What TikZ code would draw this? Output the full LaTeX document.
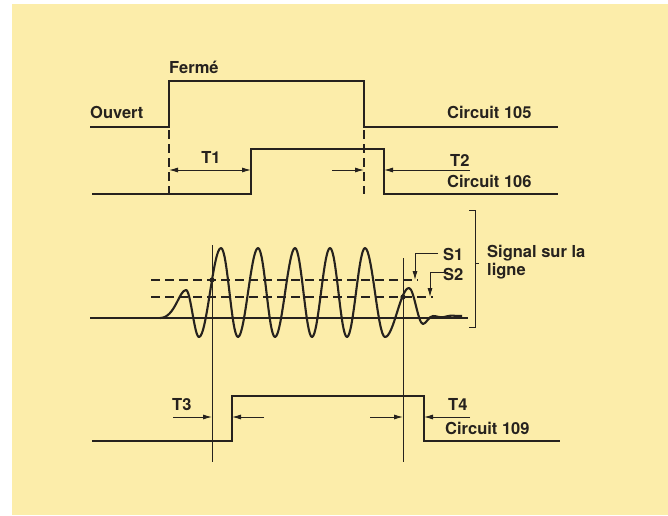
\documentclass[tikz,border=0pt]{standalone}
\usepackage{fontspec}
\setmainfont{TeX Gyre Heros}
\usetikzlibrary{arrows.meta}
\definecolor{paper}{RGB}{252,237,170}
\definecolor{ink}{RGB}{38,34,30}
\begin{document}
\begin{tikzpicture}[x=1pt,y=-1pt,
  sig/.style={draw=ink,line width=2.2pt,line join=miter},
  wave/.style={draw=ink,line width=2.1pt,line join=round},
  thinl/.style={draw=ink,line width=0.9pt},
  dsh/.style={draw=ink,line width=1.2pt,dash pattern=on 9pt off 5pt},
  lbl/.style={font=\bfseries\fontsize{16.5}{18}\selectfont,anchor=base west,inner sep=0pt,text=ink},
  dimr/.style={draw=ink,line width=0.9pt,-{Latex[length=9pt,width=5pt]}},
  dimb/.style={draw=ink,line width=0.9pt,{Latex[length=9pt,width=5pt]}-{Latex[length=9pt,width=5pt]}},
]
\useasboundingbox (0,0) rectangle (668,515);
\fill[white] (0,0) rectangle (668,515);
\fill[paper] (12,4) rectangle (668,515);

% Circuit 105 and 106
\draw[sig] (90,127) -- (169,127) -- (169,81) -- (364,81) -- (364,127) -- (558,127);
\draw[sig] (92,194) -- (251,194) -- (251,149) -- (384,149) -- (384,194) -- (558,194);
\draw[dsh] (169,130) -- (169,194);
\draw[dsh] (364,130) -- (364,194);

\coordinate (t1a) at (169,170); \coordinate (t1b) at (251,170);
\draw[dimb] (t1a) -- (t1b);
\coordinate (t2a) at (332,170); \coordinate (t2b) at (364,170);
\coordinate (t2c) at (470,170); \coordinate (t2d) at (384,170);
\draw[dimr] (t2a) -- (t2b);
\draw[dimr] (t2c) -- (t2d);

\node[lbl] (ferme) at (169,73) {Fermé};
\node[lbl] (ouvert) at (90,118) {Ouvert};
\node[lbl] (c105) at (447,118) {Circuit 105};
\node[lbl,anchor=base] (T1) at (211,163) {T1};
\node[lbl] (T2) at (450,166) {T2};
\node[lbl] (c106) at (447,187) {Circuit 106};

% Signal on the line
\draw[draw=ink,line width=1.6pt] (90,318) -- (468,318);
\draw[dsh] (151,280) -- (418,280);
\draw[dsh] (151,297) -- (433,297);
\draw[thinl] (212,245) -- (212,462);
\draw[thinl] (403,258) -- (403,462);

\draw[wave] (160,318) .. controls (175,318) and (179,290) .. (186,290)
  .. controls (190.7,290) and (194.3,337) .. (199,337)
  .. controls (206.9,337) and (213.1,248) .. (221,248)
  .. controls (227.5,248) and (231.5,337) .. (238,337)
  .. controls (245,337) and (251,248) .. (258,248)
  .. controls (264.5,248) and (268.5,337) .. (275,337)
  .. controls (282,337) and (288.2,248) .. (295,248)
  .. controls (301.3,248) and (305.7,337) .. (312,337)
  .. controls (318.5,337) and (323.5,248) .. (330,248)
  .. controls (336.5,248) and (340.5,337) .. (347,337)
  .. controls (353.5,337) and (358.5,248) .. (365,248)
  .. controls (372.2,248) and (377.8,337) .. (385,337)
  .. controls (393.6,337) and (400.4,288) .. (409,288)
  .. controls (414,288) and (418,324) .. (423,324)
  .. controls (426,324) and (429,316) .. (433,316)
  .. controls (437,316) and (440,318) .. (444,317)
  .. controls (448,316) and (452,315) .. (456,316)
  -- (462,316);

\fill[ink] (212,280) circle (2.6pt);
\fill[ink] (403,297) circle (2.6pt);

\coordinate (s1a) at (438,253); \coordinate (s1b) at (415,253); \coordinate (s1c) at (415,280);
\draw[dimr] (s1a) -- (s1b) -- (s1c);
\coordinate (s2a) at (448,272); \coordinate (s2b) at (430,272); \coordinate (s2c) at (430,297);
\draw[dimr] (s2a) -- (s2b) -- (s2c);
\node[lbl] (S1) at (443,260) {S1};
\node[lbl] (S2) at (443,280) {S2};

\draw[thinl] (469,210) -- (475,210) -- (475,327) -- (469,327);
\draw[thinl] (475,263) -- (479,263);
\node[lbl] (sig1) at (487,257) {Signal sur la};
\node[lbl] (sig2) at (487,275) {ligne};

% Circuit 109
\draw[sig] (92,441) -- (232,441) -- (232,396) -- (424,396) -- (424,441) -- (560,441);
\coordinate (t3a) at (173,417); \coordinate (t3b) at (212,417);
\coordinate (t3c) at (264,417); \coordinate (t3d) at (232,417);
\draw[dimr] (t3a) -- (t3b);
\draw[dimr] (t3c) -- (t3d);
\coordinate (t4a) at (370,417); \coordinate (t4b) at (403,417);
\coordinate (t4c) at (470,417); \coordinate (t4d) at (424,417);
\draw[dimr] (t4a) -- (t4b);
\draw[dimr] (t4c) -- (t4d);
\node[lbl] (T3) at (172,410) {T3};
\node[lbl] (T4) at (448,410) {T4};
\node[lbl] (c109) at (445,434) {Circuit 109};
\end{tikzpicture}
\end{document}
